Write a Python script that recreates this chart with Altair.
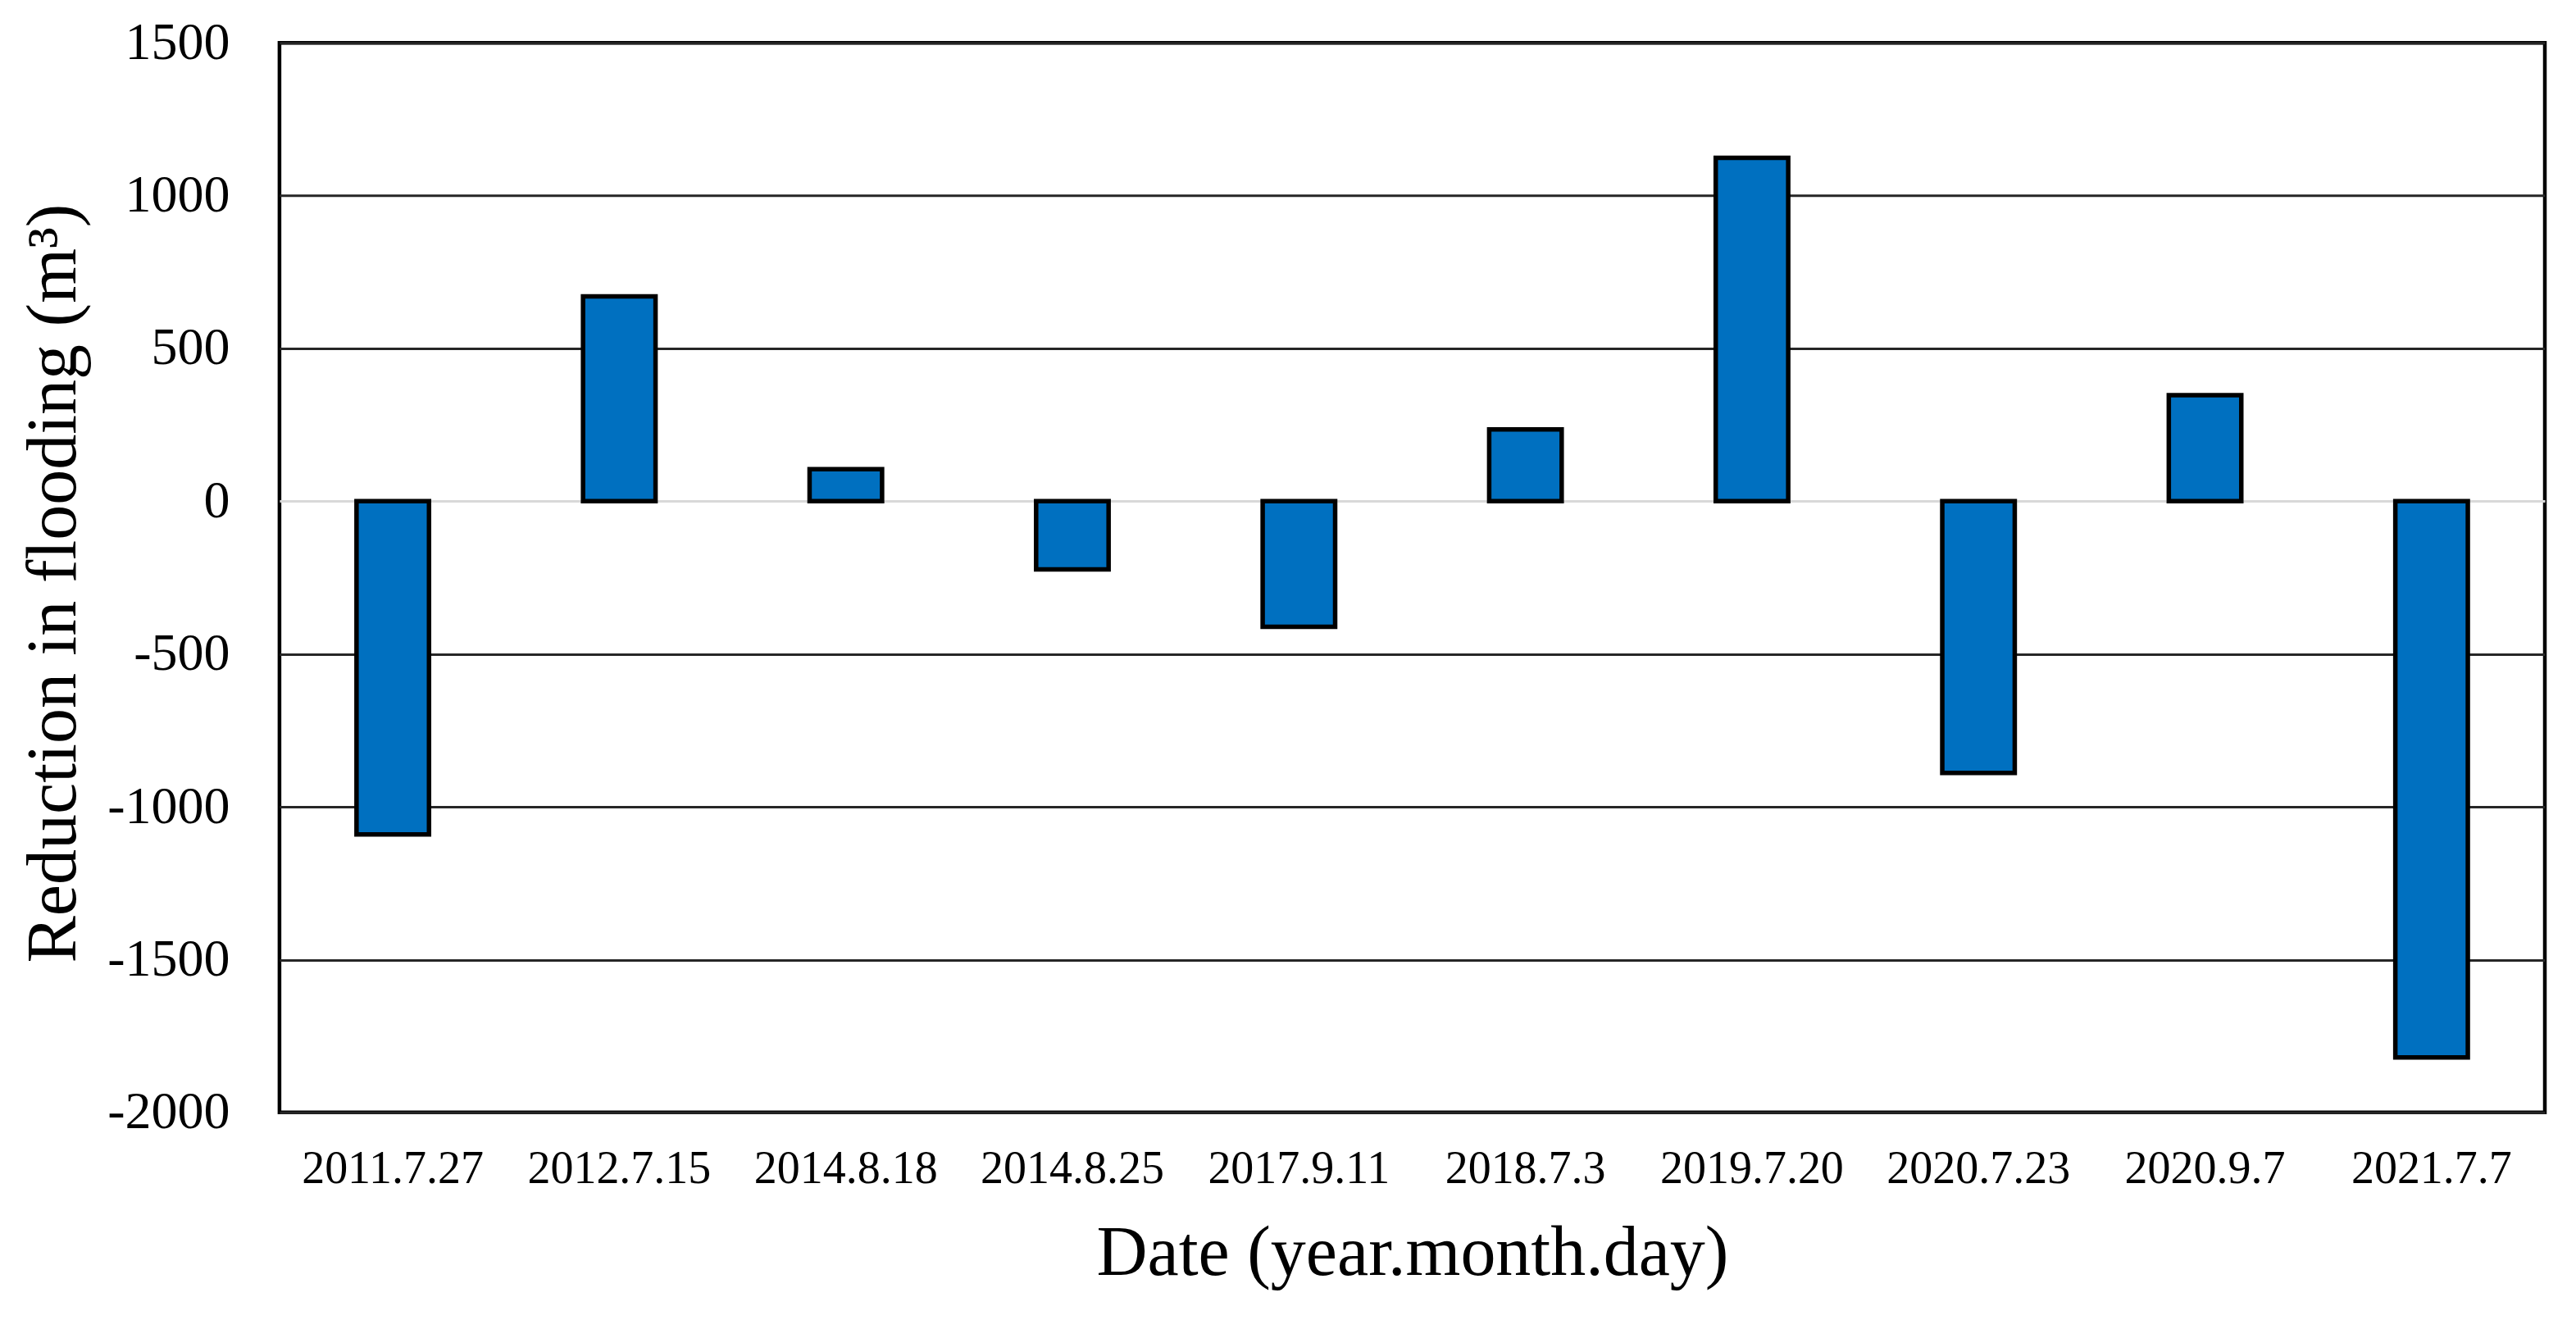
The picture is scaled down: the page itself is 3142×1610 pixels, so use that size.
import altair as alt
import pandas as pd

dates = ["2011.7.27", "2012.7.15", "2014.8.18", "2014.8.25", "2017.9.11",
         "2018.7.3", "2019.7.20", "2020.7.23", "2020.9.7", "2021.7.7"]
values = [-1090, 670, 105, -223, -411, 235, 1124, -889, 347, -1820]
y_ticks = [-2000, -1500, -1000, -500, 0, 500, 1000, 1500]

df = pd.DataFrame({"date": dates, "value": values})

FONT = "Liberation Serif"

bars = alt.Chart(df).mark_bar(
    color="#0070C0", stroke="black", strokeWidth=5.5
).encode(
    x=alt.X("date:N", sort=dates,
            scale=alt.Scale(paddingInner=0.68, paddingOuter=0.34),
            axis=alt.Axis(title="Date (year.month.day)", labelAngle=0,
                          labelFont=FONT, labelFontSize=56, labelColor="black",
                          labelPadding=42, ticks=False, domain=False,
                          labelLimit=0,
                          titleFont=FONT, titleFontSize=86, titleFontWeight="normal",
                          titleColor="black", titleBaseline="alphabetic",
                          titleY=198, labelOverlap=False)),
    y=alt.Y("value:Q",
            scale=alt.Scale(domain=[-2000, 1500], nice=False, zero=False),
            axis=alt.Axis(title="Reduction in flooding (m³)", values=y_ticks,
                          labelExpr="'' + datum.value", labelLimit=0,
                          labelFont=FONT, labelFontSize=64, labelColor="black",
                          labelPadding=61, ticks=False, domain=False,
                          grid=True,
                          gridColor={"condition": {"test": "datum.value === 0", "value": "#d9d9d9"},
                                     "value": "#262626"},
                          gridWidth=3,
                          titleFont=FONT, titleFontSize=86, titleFontWeight="normal",
                          titleColor="black", titleBaseline="alphabetic",
                          titleX=-249, titleY=659)),
).properties(
    width=2764, height=1305,
    autosize=alt.AutoSizeParams(type="none"),
    padding={"left": 333, "top": 44, "right": 30, "bottom": 240},
    background="white",
).configure_view(
    stroke="black", strokeWidth=4.5
)

chart = bars
chart.save("out.html", embed_options={"renderer": "svg", "actions": False})
